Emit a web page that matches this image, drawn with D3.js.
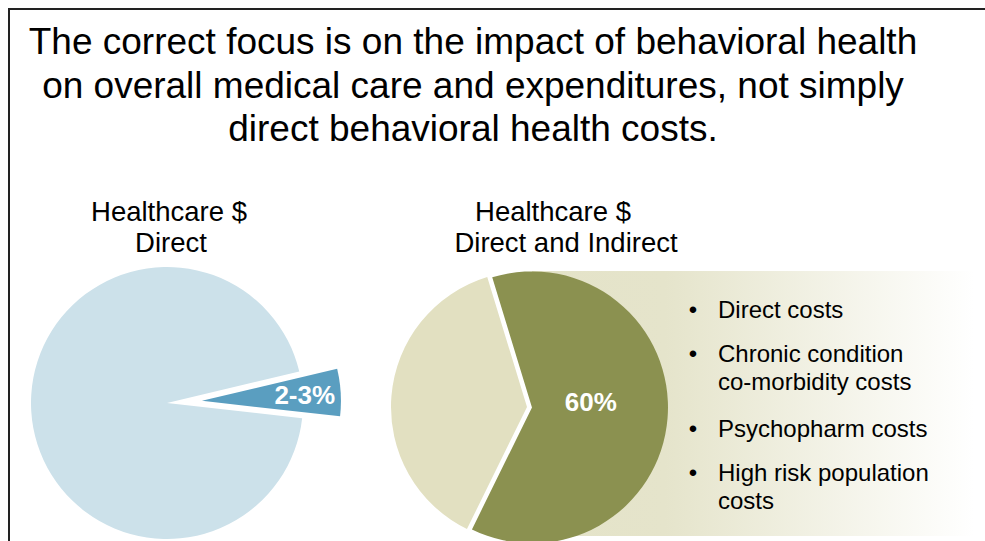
<!DOCTYPE html>
<html>
<head>
<meta charset="utf-8">
<script src="https://cdn.jsdelivr.net/npm/d3@7"></script>
<style>
  html, body { margin: 0; padding: 0; background: #fff; }
  svg { display: block; font-family: "Liberation Sans", Arial, sans-serif; }
</style>
</head>
<body>
<svg id="chart" width="985" height="541"></svg>
<script>
// ---- data ----
const titleLines = [
  "The correct focus is on the impact of behavioral health",
  "on overall medical care and expenditures, not simply",
  "direct behavioral health costs."
];
const leftHeading = ["Healthcare $", "Direct"];
const rightHeading = ["Healthcare $", "Direct and Indirect"];

const directCategories = ["Behavioral health", "Other healthcare"];
const directValues = [5.5, 94.5];          // visual share of the exploded wedge
const directLabel = "2-3%";

const totalCategories = ["Behavioral health related", "Other"];
const totalValues = [62, 38];              // visual share as drawn
const totalLabel = "60%";

const bulletItems = [
  ["Direct costs"],
  ["Chronic condition", "co-morbidity costs"],
  ["Psychopharm costs"],
  ["High risk population", "costs"]
];

// ---- drawing ----
const svg = d3.select("#chart");
const deg = Math.PI / 180;

// frame
svg.append("rect")
  .attr("x", 9).attr("y", 9).attr("width", 1000).attr("height", 600)
  .attr("fill", "none").attr("stroke", "#222").attr("stroke-width", 2);

// title
svg.append("g").selectAll("text").data(titleLines).join("text")
  .attr("x", 473).attr("y", (d, i) => 54 + i * 43.5)
  .attr("text-anchor", "middle")
  .attr("font-size", 37).attr("fill", "#000")
  .text(d => d);

// headings
svg.append("g").selectAll("text").data(leftHeading).join("text")
  .attr("x", (d, i) => i === 0 ? 169 : 171)
  .attr("y", (d, i) => 221 + i * 31)
  .attr("text-anchor", "middle").attr("font-size", 27.5).attr("fill", "#000")
  .text(d => d);
svg.append("g").selectAll("text").data(rightHeading).join("text")
  .attr("x", (d, i) => i === 0 ? 553 : 566)
  .attr("y", (d, i) => 221 + i * 31)
  .attr("text-anchor", "middle").attr("font-size", 27.5).attr("fill", "#000")
  .text(d => d);

// gradient panel behind right pie
const defs = svg.append("defs");
const grad = defs.append("linearGradient").attr("id", "panelGrad")
  .attr("x1", "0%").attr("x2", "100%").attr("y1", "0%").attr("y2", "0%");
grad.append("stop").attr("offset", "0%").attr("stop-color", "#E4E3C8");
grad.append("stop").attr("offset", "30%").attr("stop-color", "#E5E4CB");
grad.append("stop").attr("offset", "100%").attr("stop-color", "#FFFFFF");
svg.append("rect")
  .attr("x", 532).attr("y", 271).attr("width", 442).attr("height", 265)
  .attr("fill", "url(#panelGrad)");

// ---- left pie ----
const R1 = 136;
const leftCenter = [167, 403];
const leftColor = d3.scaleOrdinal().domain(directCategories).range(["#5A9EC0", "#CCE1EA"]);
const leftPie = d3.pie().sort(null)
  .startAngle(76.6 * deg).endAngle(76.6 * deg + 2 * Math.PI)
  .value(d => d.v);
const leftArcs = leftPie(directCategories.map((c, i) => ({ c, v: directValues[i] })));
const arc1 = d3.arc().innerRadius(0).outerRadius(R1);
const explode1 = 35;
const gL = svg.append("g").attr("transform", `translate(${leftCenter})`);
gL.selectAll("path").data(leftArcs).join("path")
  .attr("d", d => d.index === 0 ? d3.arc().innerRadius(0).outerRadius(R1 + 3)(d) : arc1(d))
  .attr("fill", d => leftColor(d.data.c))
  .attr("transform", d => {
    if (d.index !== 0) return null;
    const m = (d.startAngle + d.endAngle) / 2;
    return `translate(${explode1 * Math.sin(m)},${-explode1 * Math.cos(m)})`;
  });
{
  const d = leftArcs[0];
  const m = (d.startAngle + d.endAngle) / 2;
  const r = explode1 + 103;
  gL.append("text")
    .attr("x", r * Math.sin(m)).attr("y", -r * Math.cos(m) + 9)
    .attr("text-anchor", "middle").attr("font-size", 26).attr("font-weight", "bold")
    .attr("fill", "#fff").text(directLabel);
}

// ---- right pie ----
const R2 = 136;
const rightCenter = [527, 407];
const rightColor = d3.scaleOrdinal().domain(totalCategories).range(["#8B9150", "#E2E0C1"]);
const rightPie = d3.pie().sort(null)
  .startAngle(-17 * deg).endAngle(-17 * deg + 2 * Math.PI)
  .value(d => d.v);
const rightArcs = rightPie(totalCategories.map((c, i) => ({ c, v: totalValues[i] })));
const arc2 = d3.arc().innerRadius(0).outerRadius(R2);
const explode2 = 5;
const gR = svg.append("g").attr("transform", `translate(${rightCenter})`);
gR.selectAll("path").data(rightArcs.slice().reverse()).join("path")
  .attr("d", arc2)
  .attr("fill", d => rightColor(d.data.c))
  .attr("transform", d => {
    if (d.index !== 0) return null;
    const m = (d.startAngle + d.endAngle) / 2;
    return `translate(${explode2 * Math.sin(m)},${-explode2 * Math.cos(m)})`;
  });
{
  const d = rightArcs[0];
  const m = (d.startAngle + d.endAngle) / 2;
  const r = explode2 + 59;
  gR.append("text")
    .attr("x", r * Math.sin(m)).attr("y", -r * Math.cos(m) - 1)
    .attr("text-anchor", "middle").attr("font-size", 26).attr("font-weight", "bold")
    .attr("fill", "#fff").text(totalLabel);
}

// ---- bullet list ----
const baselines = [[318], [362, 390], [437], [481, 509]];
const gB = svg.append("g");
bulletItems.forEach((lines, i) => {
  gB.append("text")
    .attr("x", 693).attr("y", baselines[i][0])
    .attr("text-anchor", "middle").attr("font-size", 24).attr("fill", "#000")
    .text("\u2022");
  lines.forEach((t, j) => {
    gB.append("text")
      .attr("x", 718).attr("y", baselines[i][j])
      .attr("font-size", 24).attr("fill", "#000")
      .text(t);
  });
});
</script>
</body>
</html>
